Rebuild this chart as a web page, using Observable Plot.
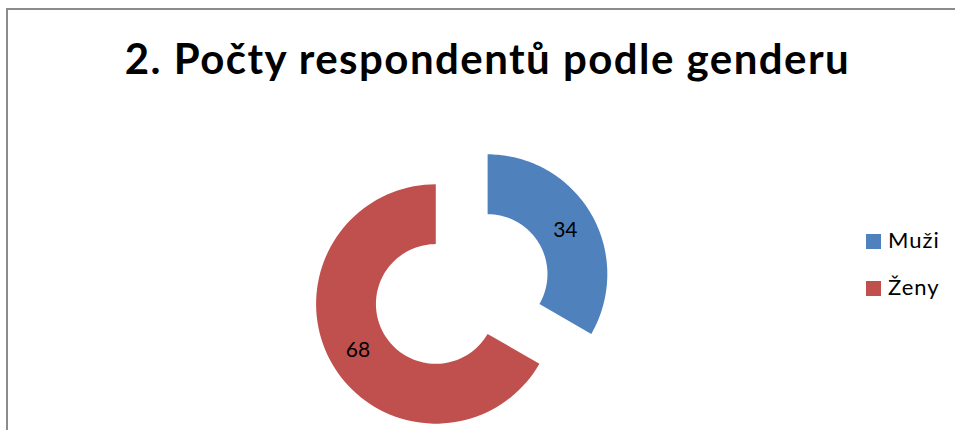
<!DOCTYPE html>
<html>
<head>
<meta charset="utf-8">
<script src="https://cdn.jsdelivr.net/npm/d3@7"></script>
<script src="https://cdn.jsdelivr.net/npm/@observablehq/plot@0.6"></script>
<style>
  html, body { margin: 0; padding: 0; background: #fff; }
  #wrap { position: relative; width: 955px; height: 430px; overflow: hidden; font-family: Lato, "Open Sans", sans-serif; }
  #frame { position: absolute; left: 6px; top: 8px; width: 1000px; height: 500px; border-top: 2px solid #8c8c8c; border-left: 2px solid #8c8c8c; box-sizing: border-box; }
  #title { position: absolute; left: 10px; top: 37px; width: 955px; text-align: center; font-weight: 700; font-size: 42px; line-height: 42px; letter-spacing: 1.45px; color: #000; white-space: nowrap; }
  #chart { position: absolute; left: 0; top: 0; }
  .leg { position: absolute; left: 866px; font-size: 22px; line-height: 22px; letter-spacing: 1px; color: #000; white-space: nowrap; }
  .leg .sw { position: absolute; left: 0; top: 0; width: 15px; height: 15px; }
  .leg .lab { position: absolute; left: 22px; top: -5.5px; }
</style>
</head>
<body>
<div id="wrap">
  <div id="frame"></div>
  <div id="chart"></div>
  <div id="title"></div>
</div>
<script>
// ---- data ----
const titleText = "2. Počty respondentů podle genderu";
const categories = ["Muži", "Ženy"];
const values = [34, 68];
const colors = ["#4F81BD", "#C0504D"];

// ---- layout ----
const W = 955, H = 430;
const cx = 461.2, cy = 288.5, R = 119.7;
const hole = 0.5, explode = 0.25;

document.getElementById("title").textContent = titleText;

const pie = d3.pie().sort(null).startAngle(0).endAngle(2 * Math.PI);
const arcs = pie(values);

const rows = [];
const labels = [];
const steps = 90;
arcs.forEach((a, i) => {
  const mid = (a.startAngle + a.endAngle) / 2;
  const ox = Math.sin(mid) * explode, oy = Math.cos(mid) * explode;
  for (let k = 0; k <= steps; k++) {
    const t = a.startAngle + (a.endAngle - a.startAngle) * k / steps;
    rows.push({cat: categories[i], x: ox + Math.sin(t), y: oy + Math.cos(t)});
  }
  for (let k = steps; k >= 0; k--) {
    const t = a.startAngle + (a.endAngle - a.startAngle) * k / steps;
    rows.push({cat: categories[i], x: ox + Math.sin(t) * hole, y: oy + Math.cos(t) * hole});
  }
  const rm = (1 + hole) / 2;
  labels.push({text: String(values[i]), x: ox + Math.sin(mid) * rm, y: oy + Math.cos(mid) * rm});
});

const chart = Plot.plot({
  width: W,
  height: H,
  margin: 0,
  style: {background: "transparent", overflow: "visible"},
  x: {domain: [-1, 1], range: [cx - R, cx + R], axis: null},
  y: {domain: [-1, 1], range: [cy + R, cy - R], axis: null},
  color: {domain: categories, range: colors},
  marks: [
    Plot.line(rows, {x: "x", y: "y", z: "cat", fill: "cat", stroke: null, curve: "linear-closed"}),
    Plot.text(labels, {x: "x", y: "y", text: "text", fontSize: 21, fontFamily: "Lato", fill: "#000", textAnchor: "middle", lineAnchor: "middle", dy: 1})
  ]
});
document.getElementById("chart").appendChild(chart);

// ---- legend ----
const wrap = document.getElementById("wrap");
categories.forEach((c, i) => {
  const d = document.createElement("div");
  d.className = "leg";
  d.style.top = (234 + i * 47) + "px";
  d.innerHTML = `<div class="sw" style="background:${colors[i]}"></div><div class="lab"></div>`;
  d.querySelector(".lab").textContent = c;
  wrap.appendChild(d);
});
</script>
</body>
</html>
